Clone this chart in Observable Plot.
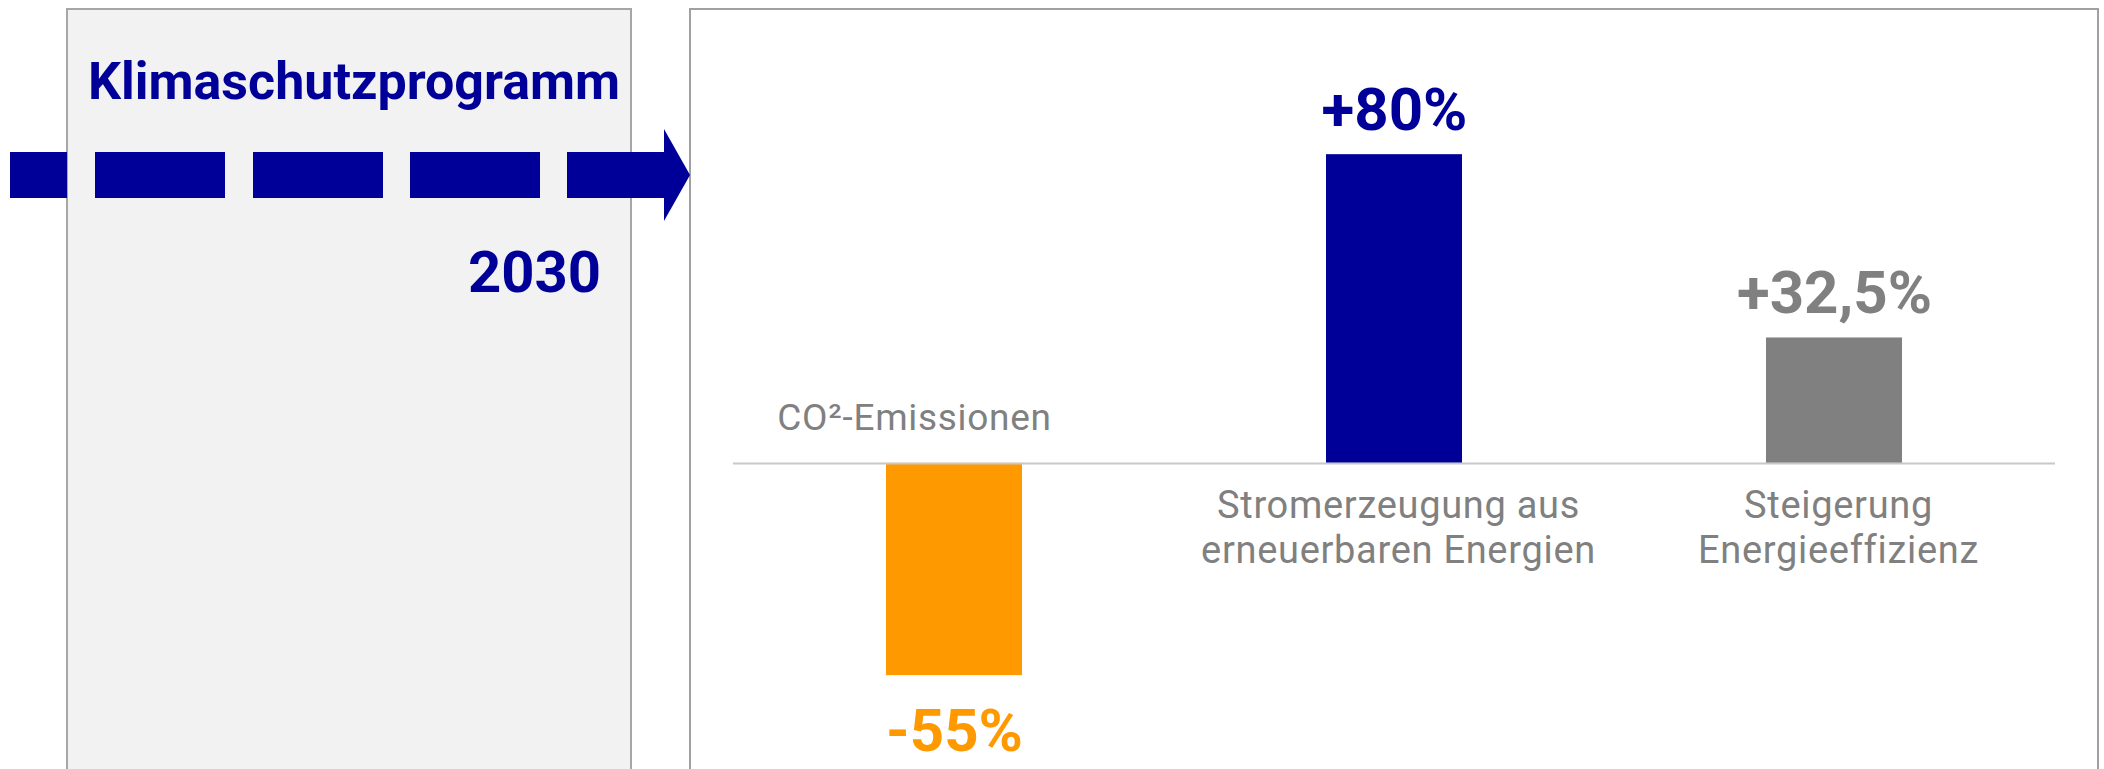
<!DOCTYPE html>
<html>
<head>
<meta charset="utf-8">
<script src="https://cdn.jsdelivr.net/npm/d3@7"></script>
<script src="https://cdn.jsdelivr.net/npm/@observablehq/plot@0.6"></script>
<style>
  body { margin: 0; background: #fff; font-family: Roboto, "Liberation Sans", sans-serif; }
  #wrap { position: relative; width: 2104px; height: 769px; overflow: hidden; background: #fff; }
  #leftbox { position: absolute; left: 66px; top: 8px; width: 566px; height: 800px; background: #f2f2f2; border: 2px solid #a6a6a6; box-sizing: border-box; }
  #rightbox { position: absolute; left: 689px; top: 8px; width: 1410px; height: 800px; border: 2px solid #a0a0a0; box-sizing: border-box; background: #fff; }
  #chart { position: absolute; left: 691px; top: 10px; }
  #overlay { position: absolute; left: 0; top: 0; }
</style>
</head>
<body>
<div id="wrap">
  <div id="leftbox"></div>
  <div id="rightbox"></div>
  <div id="chart"></div>
  <svg id="overlay" width="700" height="769" xmlns="http://www.w3.org/2000/svg">
    <text x="354" y="99" text-anchor="middle" font-family="Roboto" font-weight="bold" font-size="52" fill="#000099">Klimaschutzprogramm</text>
    <text x="601" y="292" text-anchor="end" font-family="Roboto" font-weight="bold" font-size="58" fill="#000099">2030</text>
    <g fill="#000099">
      <rect x="10" y="152" width="57" height="46"></rect>
      <rect x="95" y="152" width="130" height="46"></rect>
      <rect x="253" y="152" width="130" height="46"></rect>
      <rect x="410" y="152" width="130" height="46"></rect>
      <rect x="567" y="152" width="98" height="46"></rect>
      <polygon points="664,129 690,175 664,221"></polygon>
    </g>
  </svg>
</div>
<script>
// Data
const categories = ["CO²-Emissionen", "Stromerzeugung aus\nerneuerbaren Energien", "Steigerung\nEnergieeffizienz"];
const values = [-55, 80, 32.5];
const valueLabels = ["-55%", "+80%", "+32,5%"];

// Styles
const palette = ["#FF9900", "#000099", "#808080"];
const labelGray = "#808080";

const data = categories.map((c, i) => ({ cat: c, value: values[i], label: valueLabels[i] }));

const chart = Plot.plot({
  width: 1406,
  height: 759,
  marginLeft: 42,
  marginRight: 42,
  marginTop: 67,
  marginBottom: 36,
  x: { domain: categories, paddingInner: 0.69, paddingOuter: 0.345, axis: null },
  y: { domain: [-70, 100], axis: null },
  color: { domain: categories, range: palette },
  style: { fontFamily: "Roboto, 'Liberation Sans', sans-serif", background: "transparent", overflow: "visible" },
  marks: [
    Plot.barY(data, { x: "cat", y: "value", fill: "cat" }),
    Plot.ruleY([0], { stroke: "#c8c8c8", strokeWidth: 2 }),
    Plot.text(data.filter(d => d.value > 0), {
      x: "cat", y: "value", text: "label", fill: "cat",
      lineAnchor: "bottom", dy: -25, fontSize: 60, fontWeight: "bold"
    }),
    Plot.text(data.filter(d => d.value < 0), {
      x: "cat", y: "value", text: "label", fill: "cat",
      lineAnchor: "bottom", dy: 75, fontSize: 60, fontWeight: "bold"
    }),
    Plot.text(data.filter(d => d.value < 0), {
      x: "cat", y: () => 0, text: "cat", fill: labelGray,
      lineAnchor: "bottom", dy: -33, dx: -40, fontSize: 37
    }),
    Plot.text(data.filter(d => d.value > 0), {
      x: "cat", y: () => 0, text: "cat", fill: labelGray,
      lineAnchor: "bottom", dy: 100, dx: 4, fontSize: 38, lineHeight: 45 / 38
    })
  ]
});
document.getElementById("chart").appendChild(chart);
d3.select(chart).selectAll('g[aria-label="text"]')
  .filter((d, i) => i >= 2)
  .style("letter-spacing", "0.7px");
</script>
</body>
</html>
